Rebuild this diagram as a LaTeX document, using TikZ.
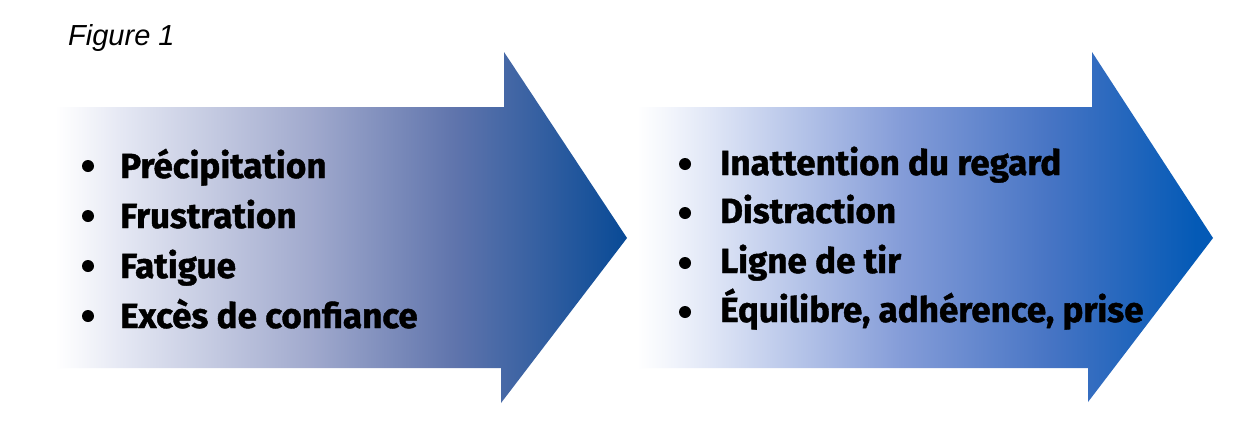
\documentclass[tikz,border=0pt]{standalone}
\usepackage{fontspec}
\setmainfont{Liberation Sans}
\newfontfamily\itemfont{Fira Sans}[BoldFeatures={FakeBold=1.2}]
\definecolor{la1}{RGB}{228,231,243}
\definecolor{la2}{RGB}{160,169,205}
\definecolor{la3}{RGB}{95,116,172}
\definecolor{la4}{RGB}{8,74,150}
\definecolor{ra1}{RGB}{226,232,247}
\definecolor{ra2}{RGB}{132,156,216}
\definecolor{ra3}{RGB}{70,116,196}
\definecolor{ra4}{RGB}{4,90,182}
% path bounding box maps to 25bp..75bp of the shading
\pgfdeclarehorizontalshading{leftshade}{100bp}{
  color(0bp)=(white); color(25bp)=(white); color(27bp)=(white!70!la1); color(31bp)=(la1);
  color(47.5bp)=(la2); color(60bp)=(la3); color(75bp)=(la4); color(100bp)=(la4)}
\pgfdeclarehorizontalshading{rightshade}{100bp}{
  color(0bp)=(white); color(25bp)=(white); color(27bp)=(white!70!ra1); color(31bp)=(ra1);
  color(48bp)=(ra2); color(61bp)=(ra3); color(73.5bp)=(ra4); color(100bp)=(ra4)}
\tikzset{
  itemtext/.style={anchor=base west, inner sep=0pt, font=\itemfont\bfseries\fontsize{35}{35}\selectfont},
  bulletdot/.style={circle, fill=black, inner sep=0pt, minimum size=12pt},
}
\begin{document}
\begin{tikzpicture}[x=1pt,y=-1pt]
\useasboundingbox (0,0) rectangle (1236,445);
\fill[white] (0,0) rectangle (1236,445);
% left arrow
\path[shading=leftshade] (55,107) -- (504,107) -- (504,52) -- (627,238) -- (501,403) -- (501,368) -- (55,368) -- cycle;
% right arrow
\path[shading=rightshade] (637,107) -- (1092,107) -- (1092,52) -- (1213,238) -- (1088,402) -- (1088,368) -- (637,368) -- cycle;
\node[anchor=base west, inner sep=0pt, font=\itshape\fontsize{29}{29}\selectfont] (fig) at (68,45) {Figure 1};
% left items
\node[bulletdot] (lb1) at (88,166) {};
\node[itemtext] (l1) at (120,178) {Précipitation};
\node[bulletdot] (lb2) at (88,216) {};
\node[itemtext] (l2) at (120,228) {Frustration};
\node[bulletdot] (lb3) at (88,266) {};
\node[itemtext] (l3) at (120,278) {Fatigue};
\node[bulletdot] (lb4) at (88,316) {};
\node[itemtext] (l4) at (120,328) {Excès de confiance};
% right items
\node[bulletdot] (rb1) at (685,164) {};
\node[itemtext] (r1) at (720,175) {Inattention du regard};
\node[bulletdot] (rb2) at (685,213) {};
\node[itemtext] (r2) at (720,223) {Distraction};
\node[bulletdot] (rb3) at (685,263) {};
\node[itemtext] (r3) at (720,273) {Ligne de tir};
\node[bulletdot] (rb4) at (685,312) {};
\node[itemtext] (r4) at (720,322) {Équilibre, adhérence, prise};
\end{tikzpicture}
\end{document}
